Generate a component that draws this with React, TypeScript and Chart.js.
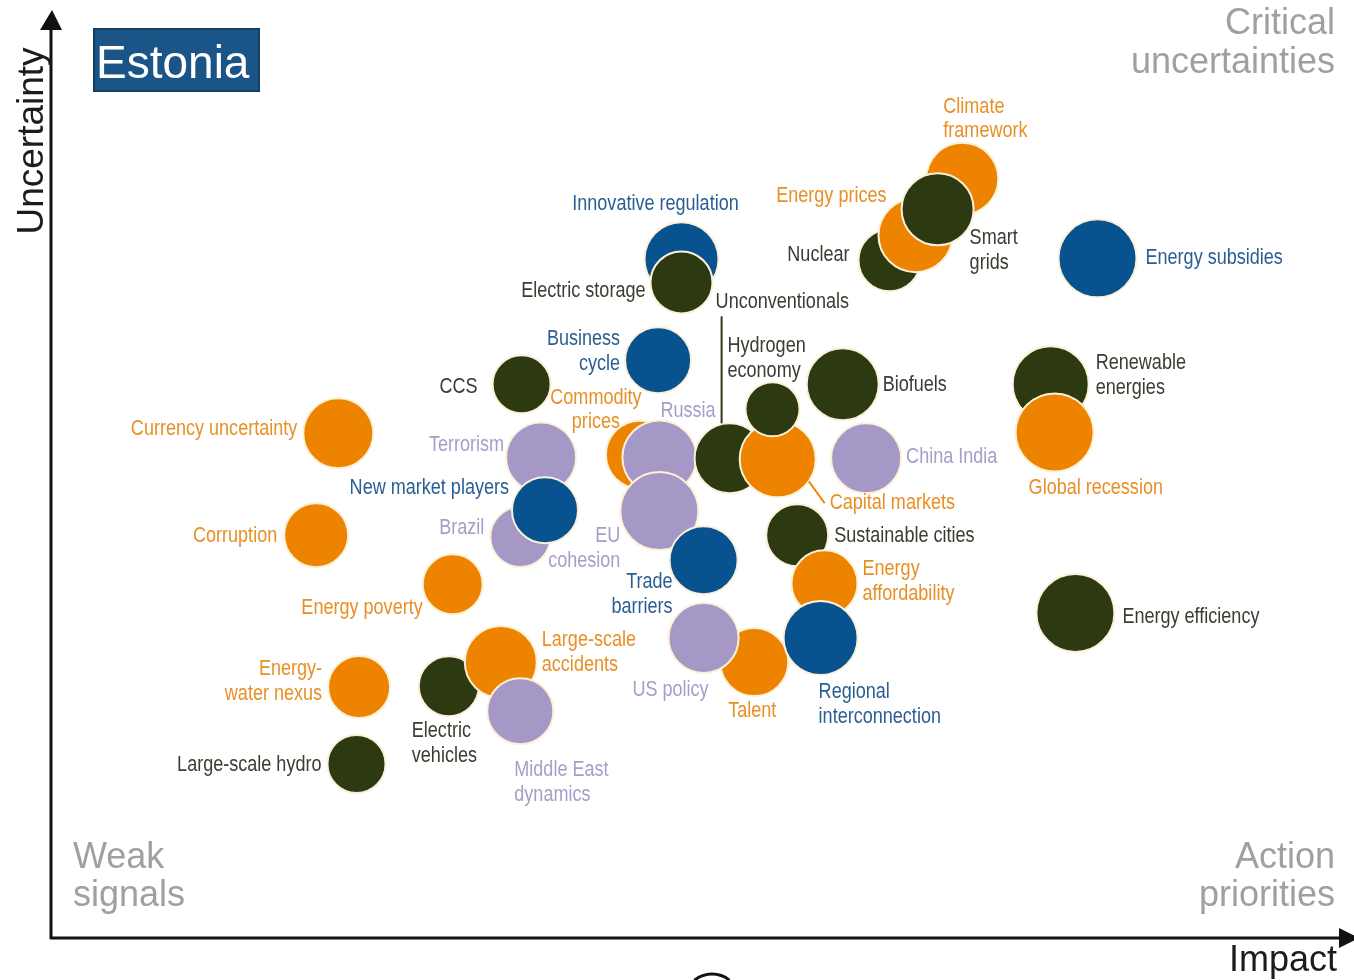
import React, { useEffect, useRef } from "react";
import { Chart, registerables } from "chart.js";

Chart.register(...registerables);

// ---- Data (impact 0-100, uncertainty 0-100), in drawing order (back to front) ----
const topics = [
  "Climate\nframework", "Nuclear", "Energy prices", "Smart\ngrids", "Energy subsidies",
  "Innovative regulation", "Electric storage", "Business\ncycle", "CCS",
  "Currency uncertainty", "Corruption", "Energy poverty",
  "Terrorism", "Brazil", "New market players",
  "Commodity\nprices", "Russia", "EU\ncohesion", "Trade\nbarriers",
  "Unconventionals", "Capital markets", "Hydrogen\neconomy",
  "Biofuels", "China India",
  "Sustainable cities", "Energy\naffordability", "Talent", "US policy", "Regional\ninterconnection",
  "Renewable\nenergies", "Global recession", "Energy efficiency",
  "Energy-\nwater nexus", "Electric\nvehicles", "Large-scale\naccidents", "Middle East\ndynamics", "Large-scale hydro",
];

const impact = [
  70.1, 64.5, 66.5, 68.2, 80.5,
  48.5, 48.5, 46.7, 36.2,
  22.1, 20.4, 30.9,
  37.7, 36.1, 38.0,
  45.3, 46.8, 46.8, 50.2,
  52.2, 55.9, 55.5,
  60.9, 62.7,
  57.4, 59.5, 54.1, 50.2, 59.2,
  76.9, 77.2, 78.8,
  23.7, 30.6, 34.6, 36.1, 23.5,
];

const uncertainty = [
  82.0, 73.2, 75.9, 78.7, 73.4,
  73.3, 70.8, 62.4, 59.8,
  54.5, 43.5, 38.2,
  51.9, 43.3, 46.2,
  52.2, 51.9, 46.1, 40.8,
  51.8, 51.7, 57.1,
  59.8, 51.8,
  43.5, 38.3, 29.8, 32.4, 32.4,
  59.8, 54.6, 35.1,
  27.1, 27.2, 29.8, 24.5, 18.8,
];

const bubbleRadius = [
  36, 31, 37, 36, 39,
  37, 31, 33, 29,
  35, 32, 30,
  35, 30, 33,
  34, 37, 39, 34,
  35, 38, 27,
  36, 35,
  31, 33, 34, 35, 37,
  38, 39, 39,
  31, 30, 36, 33, 29,
];

const family = [
  "economy", "technology", "economy", "technology", "policy",
  "policy", "technology", "policy", "technology",
  "economy", "economy", "economy",
  "geopolitics", "geopolitics", "policy",
  "economy", "geopolitics", "geopolitics", "policy",
  "technology", "economy", "technology",
  "technology", "geopolitics",
  "technology", "economy", "economy", "geopolitics", "policy",
  "technology", "economy", "technology",
  "economy", "technology", "economy", "geopolitics", "technology",
];

const familyFill: Record<string, string> = {
  technology: "#2d3911",
  economy: "#ee8300",
  policy: "#07528f",
  geopolitics: "#a597c6",
};
const familyText: Record<string, string> = {
  technology: "#3a3d30",
  economy: "#e88f26",
  policy: "#2b5e93",
  geopolitics: "#a89cca",
};

// label placement relative to each bubble: [align, dx, dy]
const labelPlacement: [CanvasTextAlign, number, number][] = [
  ["left", -19, -72], ["right", -40, -5], ["right", -29, -39], ["left", 32, 29], ["left", 48, 0],
  ["center", -26, -55], ["right", -36, 9], ["right", -38, -21], ["right", -44, 3],
  ["right", -41, -4], ["right", -39, 1], ["right", -30, 24],
  ["right", -37, -12], ["right", -36, -9], ["right", -36, -22],
  ["center", -44, -57], ["left", 1, -46], ["right", -39, 25], ["right", -31, 22],
  ["left", -14, -156], ["left", 52, 44], ["left", -45, -63],
  ["left", 40, 1], ["left", 40, -1],
  ["left", 37, 1], ["left", 38, -14], ["center", -2, 49], ["right", 5, 52], ["left", -2, 54],
  ["left", 45, -21], ["left", -26, 56], ["left", 47, 4],
  ["right", -37, -18], ["left", -37, 45], ["left", 41, -22], ["left", -6, 59], ["right", -35, 1],
];

// leader lines: index -> [dx1, dy1, dx2, dy2]
const leaderLines: Record<number, [number, number, number, number]> = {
  19: [-8, -142, -8, -35],
  20: [31, 22, 47, 44],
};

const quadrantNames = {
  topRight: ["Critical", "uncertainties"],
  bottomLeft: ["Weak", "signals"],
  bottomRight: ["Action", "priorities"],
};

const countryName = "Estonia";
const xAxisTitle = "Impact";
const yAxisTitle = "Uncertainty";

function narrowText(ctx: CanvasRenderingContext2D, text: string, x: number, y: number, align: CanvasTextAlign) {
  ctx.save();
  ctx.translate(x, y);
  ctx.scale(0.82, 1);
  ctx.textAlign = align;
  ctx.fillText(text, 0, 0);
  ctx.restore();
}

const decorPlugin = {
  id: "decor",
  beforeDatasetsDraw(chart: any) {
    const ctx: CanvasRenderingContext2D = chart.ctx;
    const { left, right, top, bottom } = chart.chartArea;
    ctx.save();
    // axes
    ctx.strokeStyle = "#111";
    ctx.fillStyle = "#111";
    ctx.lineWidth = 3;
    ctx.beginPath();
    ctx.moveTo(left, bottom + 1);
    ctx.lineTo(left, top + 16);
    ctx.stroke();
    ctx.beginPath();
    ctx.moveTo(left - 11, top + 18);
    ctx.lineTo(left + 11, top + 18);
    ctx.lineTo(left + 1, top - 2);
    ctx.closePath();
    ctx.fill();
    ctx.beginPath();
    ctx.moveTo(left - 1, bottom);
    ctx.lineTo(right - 10, bottom);
    ctx.stroke();
    ctx.beginPath();
    ctx.moveTo(right - 12, bottom - 10);
    ctx.lineTo(right - 12, bottom + 10);
    ctx.lineTo(right + 8, bottom);
    ctx.closePath();
    ctx.fill();

    // axis titles
    ctx.fillStyle = "#1c1c1c";
    ctx.font = "37px 'Liberation Sans', Arial, sans-serif";
    ctx.textBaseline = "alphabetic";
    ctx.save();
    ctx.translate(43, 141);
    ctx.rotate(-Math.PI / 2);
    ctx.textAlign = "center";
    ctx.fillText(yAxisTitle, 0, 0);
    ctx.restore();
    ctx.font = "36px 'Liberation Sans', Arial, sans-serif";
    ctx.textAlign = "right";
    ctx.fillText(xAxisTitle, 1337, 971);

    // small cut-off arc at bottom
    ctx.lineWidth = 3;
    ctx.strokeStyle = "#111";
    ctx.beginPath();
    ctx.arc(712, 1002, 28, -2.25, -0.9);
    ctx.stroke();

    // quadrant names
    ctx.fillStyle = "#a0a0a0";
    ctx.font = "36px 'Liberation Sans', Arial, sans-serif";
    ctx.textAlign = "right";
    ctx.fillText(quadrantNames.topRight[0], 1335, 34);
    ctx.fillText(quadrantNames.topRight[1], 1335, 73);
    ctx.fillText(quadrantNames.bottomRight[0], 1335, 868);
    ctx.fillText(quadrantNames.bottomRight[1], 1335, 906);
    ctx.textAlign = "left";
    ctx.fillText(quadrantNames.bottomLeft[0], 73, 868);
    ctx.fillText(quadrantNames.bottomLeft[1], 73, 906);

    // country box
    ctx.fillStyle = "#1b5587";
    ctx.strokeStyle = "#123f66";
    ctx.lineWidth = 2;
    ctx.beginPath();
    ctx.rect(94, 29, 165, 62);
    ctx.fill();
    ctx.stroke();
    ctx.fillStyle = "#ffffff";
    ctx.font = "46px 'Liberation Sans', Arial, sans-serif";
    ctx.textAlign = "left";
    ctx.fillText(countryName, 96, 78);
    ctx.restore();
  },
  afterDatasetsDraw(chart: any) {
    const ctx: CanvasRenderingContext2D = chart.ctx;
    const meta = chart.getDatasetMeta(0);
    ctx.save();
    ctx.font = "22px 'Liberation Sans', Arial, sans-serif";
    ctx.textBaseline = "middle";
    topics.forEach((name, i) => {
      const el = meta.data[i];
      if (!el) return;
      const color = familyText[family[i]];
      const [align, dx, dy] = labelPlacement[i];
      const line = leaderLines[i];
      if (line) {
        ctx.strokeStyle = i === 19 ? "#2d3911" : "#ee8300";
        ctx.lineWidth = 2;
        ctx.beginPath();
        ctx.moveTo(el.x + line[0], el.y + line[1]);
        ctx.lineTo(el.x + line[2], el.y + line[3]);
        ctx.stroke();
      }
      ctx.fillStyle = color;
      name.split("\n").forEach((t, k) => {
        narrowText(ctx, t, el.x + dx, el.y + dy + k * 24.5, align);
      });
    });
    ctx.restore();
  },
};

export default function App() {
  const canvasRef = useRef<HTMLCanvasElement | null>(null);

  useEffect(() => {
    const canvas = canvasRef.current;
    if (!canvas) return;
    const chart = new Chart(canvas, {
      type: "bubble",
      data: {
        datasets: [
          {
            label: "Energy issues",
            data: topics.map((_, i) => ({ x: impact[i], y: uncertainty[i], r: bubbleRadius[i] })),
            backgroundColor: family.map((f) => familyFill[f]),
            borderColor: "#fbf1d8",
            borderWidth: 2,
            hoverBorderWidth: 2,
          },
        ],
      },
      options: {
        responsive: false,
        animation: false,
        devicePixelRatio: 1,
        layout: { autoPadding: false, padding: { left: 51, right: 3, top: 12, bottom: 42 } },
        scales: {
          x: { type: "linear", min: 0, max: 100, display: false },
          y: { type: "linear", min: 0, max: 100, display: false },
        },
        plugins: {
          legend: { display: false },
          tooltip: { enabled: false },
        },
        events: [],
      },
      plugins: [decorPlugin],
    });
    return () => chart.destroy();
  }, []);

  return (
    <div style={{ position: "fixed", left: 0, top: 0, width: 1354, height: 980, background: "#fff" }}>
      <canvas ref={canvasRef} width={1354} height={980} style={{ display: "block" }} />
    </div>
  );
}
